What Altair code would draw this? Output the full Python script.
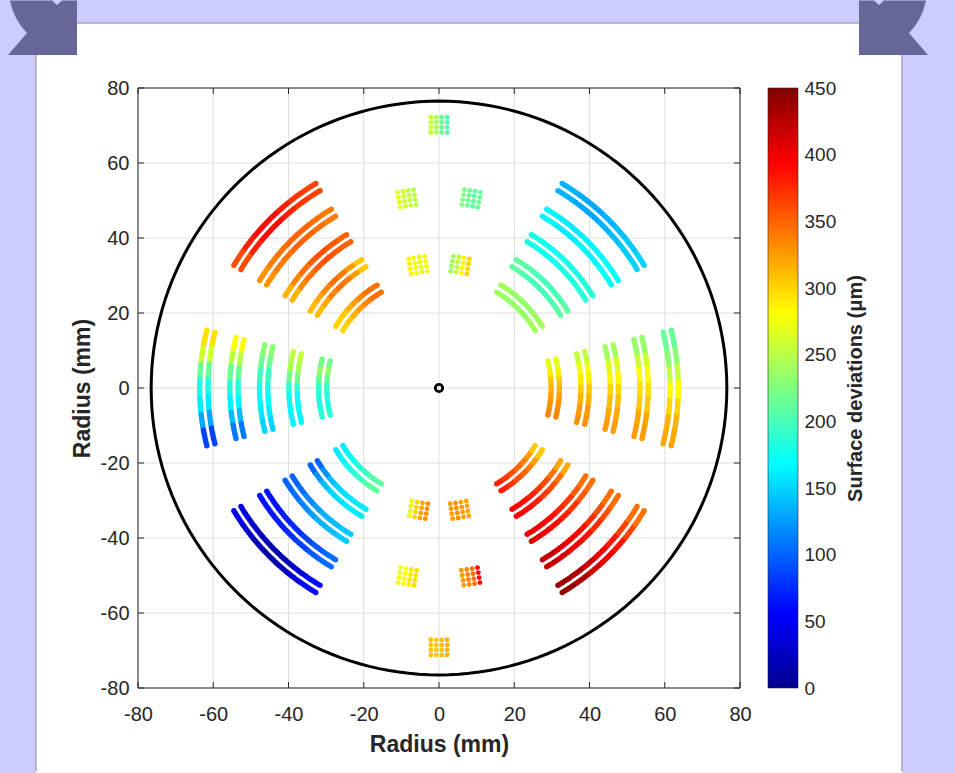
import math
import pandas as pd
import altair as alt

# ---------------- values ----------------
TICKS = [-80, -60, -40, -20, 0, 20, 40, 60, 80]
CBAR_TICKS = [0, 50, 100, 150, 200, 250, 300, 350, 400, 450]

CIRCLE_R = 76.5                      # mm, outer black circle
SECTOR_ANGLES = [0, 45, 135, 180, 225, 315]   # deg, centre of each arc sector
ARC_INNER_RADII = [29.8, 37.7, 45.5, 53.4, 61.4]   # mm, inner line of each arc pair
PAIR_GAP = 2.2                       # mm between the two lines of a pair
HALF_SPAN = 14.0                     # deg, half angular extent of the arcs

# surface deviation (um) along each arc, counter-clockwise order, inner -> outer arc
ARC_VALUES = {
    0:   [[335, 330, 325, 315, 305, 290, 270],
          [330, 325, 315, 305, 290, 275, 255],
          [325, 320, 310, 300, 285, 265, 240],
          [325, 320, 305, 295, 280, 260, 235],
          [320, 315, 300, 280, 255, 230, 215]],
    45:  [[240, 240, 235, 235, 235, 235, 240],
          [210, 205, 200, 200, 200, 205, 210],
          [185, 185, 180, 180, 175, 175, 180],
          [170, 170, 165, 165, 160, 160, 165],
          [150, 145, 140, 135, 130, 130, 135]],
    135: [[345, 345, 335, 325, 315, 305, 300],
          [305, 325, 340, 345, 335, 320, 310],
          [350, 355, 360, 355, 345, 335, 315],
          [340, 345, 350, 350, 345, 340, 330],
          [365, 370, 380, 390, 390, 380, 360]],
    180: [[220, 235, 215, 195, 185, 180, 185],
          [255, 245, 220, 190, 175, 170, 165],
          [230, 215, 195, 180, 170, 160, 150],
          [280, 250, 215, 185, 165, 140, 110],
          [295, 260, 215, 180, 160, 130, 85]],
    225: [[160, 165, 175, 185, 195, 205, 210],
          [100, 120, 140, 150, 155, 160, 160],
          [100, 105, 115, 125, 135, 140, 145],
          [65, 65, 70, 75, 85, 95, 105],
          [45, 30, 20, 15, 20, 35, 60]],
    315: [[380, 370, 360, 350, 340, 325, 305],
          [395, 390, 380, 370, 360, 345, 320],
          [405, 400, 390, 380, 370, 355, 345],
          [420, 410, 400, 390, 375, 360, 345],
          [440, 430, 415, 400, 385, 365, 345]],
}

# 4x4 dot blocks near the vertical axis: (radius mm, angle deg, values per column ccw)
BLOCKS = [
    (70.2, 90.0,  [205, 215, 245, 255]),
    (51.3, 80.4,  [215, 210, 215, 225]),
    (51.3, 99.6,  [250, 255, 260, 270]),
    (33.3, 80.3,  [300, 285, 255, 240]),
    (33.3, 99.7,  [275, 270, 275, 285]),
    (33.0, 260.5, [270, 300, 320, 330]),
    (33.0, 279.5, [325, 330, 325, 320]),
    (51.0, 260.5, [275, 280, 290, 295]),
    (51.0, 279.5, [325, 335, 345, 390]),
    (69.2, 270.0, [310, 305, 310, 315]),
]
BLOCK_ROW_STEP = 1.35   # mm radial
BLOCK_COL_STEP = 1.45   # mm tangential

JET_DOMAIN = [0, 56.25, 168.75, 281.25, 393.75, 450]
JET_COLORS = ["#00008f", "#0000ff", "#00ffff", "#ffff00", "#ff0000", "#800000"]

# ---------------- build tables ----------------
arc_rows = []
for ang in SECTOR_ANGLES:
    for k, r0 in enumerate(ARC_INNER_RADII):
        vals = ARC_VALUES[ang][k]
        for r in (r0, r0 + PAIR_GAP):
            length = math.radians(2 * HALF_SPAN) * r
            n = int(length / 0.7) + 1
            for i in range(n):
                t = i / (n - 1)
                a = math.radians(ang - HALF_SPAN + 2 * HALF_SPAN * t)
                v = vals[min(int(t * len(vals)), len(vals) - 1)]
                arc_rows.append({"x": r * math.cos(a), "y": r * math.sin(a), "v": v})
arc_df = pd.DataFrame(arc_rows)

block_rows = []
for r, ang, vals in BLOCKS:
    for i in range(4):
        rr = r + (i - 1.5) * BLOCK_ROW_STEP
        for j in range(4):
            a = math.radians(ang) + (j - 1.5) * BLOCK_COL_STEP / rr
            block_rows.append({"x": rr * math.cos(a), "y": rr * math.sin(a), "v": vals[j]})
block_df = pd.DataFrame(block_rows)

circle_df = pd.DataFrame(
    [{"i": i, "x": CIRCLE_R * math.cos(math.radians(i * 2)),
      "y": CIRCLE_R * math.sin(math.radians(i * 2))} for i in range(181)]
)
ticks_df = pd.DataFrame({"t": TICKS})
origin_df = pd.DataFrame({"x": [0], "y": [0]})
one = pd.DataFrame({"a": [0]})

# ---------------- layout constants (pixels) ----------------
W, H = 602, 600
OX, OY = 138, 88            # page position of plot origin
PAGE_W, PAGE_H = 955, 773
FONT = "Liberation Sans"
TXT = "#262626"
HYPHEN = "replace(datum.label, '\u2212', '-')"

xs = alt.Scale(domain=[-80, 80], nice=False, zero=False)
ys = alt.Scale(domain=[-80, 80], nice=False, zero=False)
cscale = alt.Scale(domain=JET_DOMAIN, range=JET_COLORS, interpolate="rgb")

base = alt.Chart(one)

page_bg = base.mark_rect(color="#ccccff").encode(
    x=alt.value(-OX), x2=alt.value(PAGE_W - OX),
    y=alt.value(-OY), y2=alt.value(PAGE_H - OY))
panel = base.mark_rect(color="white").encode(
    x=alt.value(36 - OX), x2=alt.value(902 - OX),
    y=alt.value(23 - OY), y2=alt.value(PAGE_H - OY))
border_l = base.mark_rule(color="#a4a4bc", strokeWidth=1.5).encode(
    x=alt.value(36 - OX), y=alt.value(23 - OY), y2=alt.value(771 - OY))
border_r = base.mark_rule(color="#a4a4bc", strokeWidth=1.5).encode(
    x=alt.value(902 - OX), y=alt.value(23 - OY), y2=alt.value(771 - OY))
border_t = base.mark_rule(color="#a4a4bc", strokeWidth=1.5).encode(
    y=alt.value(23 - OY), x=alt.value(36 - OX), x2=alt.value(902 - OX))

RIB_L = ("M-0.903,-0.764 L0.264,-0.764 L0.403,-0.639 L0.542,-0.764 L0.958,-0.764 "
         "L0.958,0.75 L-0.958,0.75 L-0.431,0.139 Q-0.792,-0.222 -0.903,-0.764 Z")
RIB_R = ("M0.903,-0.764 L-0.264,-0.764 L-0.403,-0.639 L-0.542,-0.764 L-0.958,-0.764 "
         "L-0.958,0.75 L0.958,0.75 L0.431,0.139 Q0.792,-0.222 0.903,-0.764 Z")
rib_l = base.mark_point(shape=RIB_L, size=5184, filled=True, fill="#666699",
                        opacity=1, strokeWidth=0).encode(
    x=alt.value(42.5 - OX), y=alt.value(28 - OY))
rib_r = base.mark_point(shape=RIB_R, size=5184, filled=True, fill="#666699",
                        opacity=1, strokeWidth=0).encode(
    x=alt.value(893.5 - OX), y=alt.value(28 - OY))

x_axis = alt.Axis(values=TICKS, title="Radius (mm)", ticks=False, domain=False, grid=False,
                  labelFont=FONT, labelFontSize=20, labelColor=TXT, labelPadding=16,
                  labelExpr=HYPHEN,
                  titleFont=FONT, titleFontSize=23, titleFontWeight="bold", titleColor=TXT,
                  titlePadding=9, zindex=1, labelFlush=False)
y_axis = alt.Axis(values=TICKS, title="Radius (mm)", ticks=False, domain=False, grid=False,
                  labelFont=FONT, labelFontSize=20, labelColor=TXT, labelPadding=9,
                  labelExpr=HYPHEN,
                  titleFont=FONT, titleFontSize=23, titleFontWeight="bold", titleColor=TXT,
                  titlePadding=6, zindex=1, labelFlush=False)

grid_v = alt.Chart(ticks_df).mark_rule(color="#dedede", strokeWidth=1).encode(
    x=alt.X("t:Q", scale=xs, axis=x_axis), y=alt.value(0), y2=alt.value(H))
grid_h = alt.Chart(ticks_df).mark_rule(color="#dedede", strokeWidth=1).encode(
    y=alt.Y("t:Q", scale=ys, axis=y_axis), x=alt.value(0), x2=alt.value(W))

circle = alt.Chart(circle_df).mark_line(color="black", strokeWidth=3).encode(
    x=alt.X("x:Q", scale=xs), y=alt.Y("y:Q", scale=ys), order="i:Q")

arcs = alt.Chart(arc_df).mark_circle(size=30, opacity=1).encode(
    x=alt.X("x:Q", scale=xs), y=alt.Y("y:Q", scale=ys),
    color=alt.Color("v:Q", scale=cscale, legend=None))
blocks = alt.Chart(block_df).mark_circle(size=24, opacity=1).encode(
    x=alt.X("x:Q", scale=xs), y=alt.Y("y:Q", scale=ys),
    color=alt.Color("v:Q", scale=cscale, legend=None))

origin = alt.Chart(origin_df).mark_point(size=55, color="black", strokeWidth=2.8,
                                         filled=False, opacity=1).encode(
    x=alt.X("x:Q", scale=xs), y=alt.Y("y:Q", scale=ys))

frame = base.mark_rect(filled=False, stroke=TXT, strokeWidth=1, fillOpacity=0).encode(
    x=alt.value(0), x2=alt.value(W), y=alt.value(0), y2=alt.value(H))
tick_b = alt.Chart(ticks_df).mark_rule(color=TXT).encode(
    x=alt.X("t:Q", scale=xs), y=alt.value(H), y2=alt.value(H - 6))
tick_t = alt.Chart(ticks_df).mark_rule(color=TXT).encode(
    x=alt.X("t:Q", scale=xs), y=alt.value(0), y2=alt.value(6))
tick_l = alt.Chart(ticks_df).mark_rule(color=TXT).encode(
    y=alt.Y("t:Q", scale=ys), x=alt.value(0), x2=alt.value(6))
tick_r = alt.Chart(ticks_df).mark_rule(color=TXT).encode(
    y=alt.Y("t:Q", scale=ys), x=alt.value(W), x2=alt.value(W - 6))

main = alt.layer(page_bg, panel, border_l, border_r, border_t, rib_l, rib_r,
                 grid_v, grid_h, circle, arcs, blocks, origin, frame,
                 tick_b, tick_t, tick_l, tick_r)

# ---------------- colour bar ----------------
cbar_df = pd.DataFrame({"lo": [0], "hi": [450]})
jet_grad = alt.Gradient(
    gradient="linear", x1=0, x2=0, y1=1, y2=0,
    stops=[alt.GradientStop(color=c, offset=d / 450) for c, d in zip(JET_COLORS, JET_DOMAIN)])
CB_X0 = 768 - OX
cbar = alt.Chart(cbar_df).mark_rect(fill=jet_grad, stroke=TXT, strokeWidth=0.6).encode(
    x=alt.value(CB_X0), x2=alt.value(CB_X0 + 30),
    y=alt.Y("lo:Q", scale=alt.Scale(domain=[0, 450], nice=False, zero=False),
            axis=alt.Axis(orient="right", offset=CB_X0 + 30 - W, values=CBAR_TICKS,
                          title="Surface deviations (μm)", titleAngle=270,
                          ticks=False, domain=False, grid=False,
                          labelFont=FONT, labelFontSize=19, labelColor=TXT, labelPadding=6,
                          titleFont=FONT, titleFontSize=20, titleFontWeight="bold",
                          titleColor=TXT, titlePadding=30, zindex=1, labelFlush=False)),
    y2="hi:Q")

chart = alt.layer(main, cbar).resolve_scale(y="independent").properties(
    width=W, height=H, padding=0, background="#ccccff"
).configure_view(stroke=None)

chart.save("out.html", embed_options={"renderer": "svg", "actions": False})
